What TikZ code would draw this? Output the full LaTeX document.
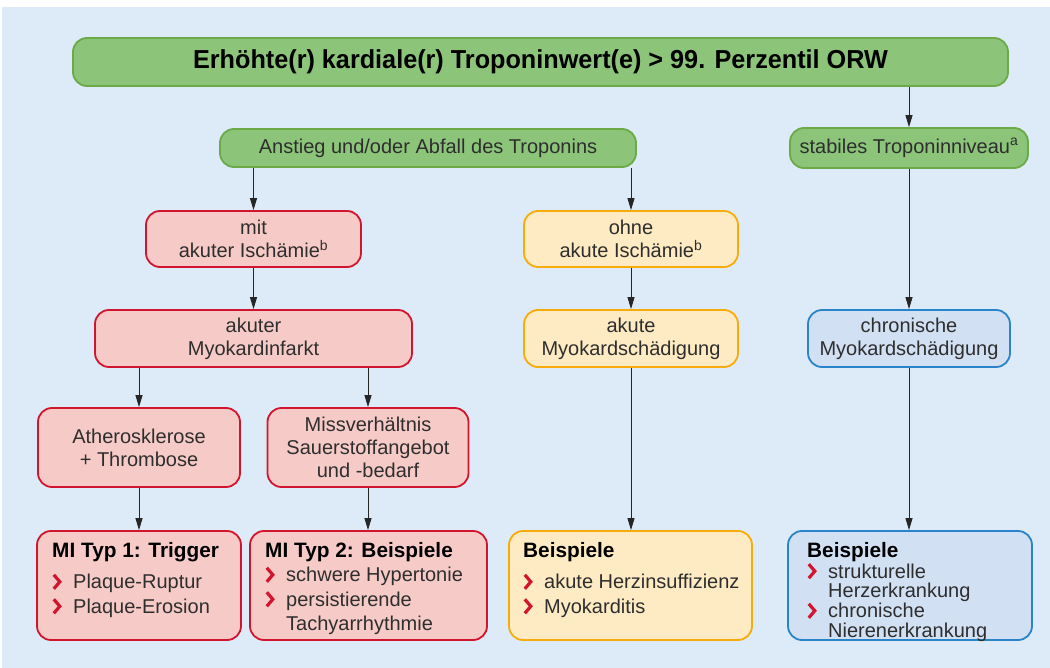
\documentclass[tikz,border=0pt]{standalone}
\usepackage{fontspec}
\setmainfont{Liberation Sans}
\usetikzlibrary{arrows.meta}
\definecolor{bgblue}{HTML}{DDEAF7}
\definecolor{gfill}{HTML}{8CC47A}
\definecolor{gdraw}{HTML}{6BAA46}
\definecolor{rfill}{HTML}{F6CBC7}
\definecolor{rdraw}{HTML}{D2152E}
\definecolor{ofill}{HTML}{FEEBC4}
\definecolor{odraw}{HTML}{F8AC0C}
\definecolor{bfill}{HTML}{D2E0F3}
\definecolor{bdraw}{HTML}{2A84C9}
\definecolor{txt}{HTML}{2E2E2E}
\definecolor{chevred}{HTML}{D2152E}
\newcommand{\chev}{\makebox[21pt][l]{\tikz[baseline=0pt]\draw[chevred,line width=3.2pt,line cap=butt,line join=miter] (1pt,0pt)--(7pt,7pt)--(1pt,14pt);}}
\newcommand{\chind}{\hspace*{21pt}}
\newcommand{\ttl}[1]{{\fontsize{20.8}{24}\selectfont\bfseries\color{black}#1}}
\begin{document}
\begin{tikzpicture}[x=1pt,y=-1pt,
  box/.style={rounded corners=14pt,line width=1.8pt,inner sep=0pt,align=center,text=txt,font=\fontsize{20}{23}\selectfont},
  gbox/.style={box,fill=gfill,draw=gdraw},
  rbox/.style={box,fill=rfill,draw=rdraw},
  obox/.style={box,fill=ofill,draw=odraw},
  bbox/.style={box,fill=bfill,draw=bdraw},
  lst/.style={anchor=north west,align=left,inner sep=0pt,text=txt,font=\fontsize{20}{24.5}\selectfont},
  arr/.style={draw=black!85,line width=0.9pt,-{Triangle[length=12pt,width=7pt]}}
]
\useasboundingbox (0,0) rectangle (1050,668);
\fill[bgblue] (2,7) rectangle (1050,668);

\node[gbox,minimum width=935,minimum height=48] (top) at (540.5,62)
  {\scalebox{0.97}[1]{\fontsize{26}{30}\selectfont\bfseries\color{black}Erhöhte(r) kardiale(r) Troponinwert(e) > 99. Perzentil ORW}};
\node[gbox,minimum width=416,minimum height=38] (anst) at (428,148) {Anstieg und/oder Abfall des Troponins};
\node[gbox,minimum width=238,minimum height=40] (stab) at (909,148) {stabiles Troponinniveau\textsuperscript{a}};

\node[rbox,minimum width=215,minimum height=56] (mit) at (253.5,239) {mit\\akuter Ischämie\textsuperscript{b}};
\node[obox,minimum width=214,minimum height=56] (ohne) at (631,239) {ohne\\akute Ischämie\textsuperscript{b}};

\node[rbox,minimum width=317,minimum height=57] (ami) at (253.5,338.5) {akuter\\Myokardinfarkt};
\node[obox,minimum width=214,minimum height=57] (ams) at (631,338.5) {akute\\Myokardschädigung};
\node[bbox,minimum width=202,minimum height=57] (chr) at (909,338.5) {chronische\\Myokardschädigung};

\node[rbox,minimum width=202,minimum height=79] (ath) at (139,447.5) {Atherosklerose\\+ Thrombose};
\node[rbox,minimum width=201,minimum height=79] (mis) at (368,447.5) {Missverhältnis\\Sauerstoffangebot\\und -bedarf};

\node[rbox,minimum width=204,minimum height=109] (t1) at (139,585.5) {};
\node[rbox,minimum width=237,minimum height=109] (t2) at (368.5,585.5) {};
\node[obox,minimum width=243,minimum height=109] (b1) at (630.5,585.5) {};
\node[bbox,minimum width=244,minimum height=109] (b2) at (910,585.5) {};

\node[lst] (t1txt) at (52,542) {\ttl{MI Typ 1: Trigger}\\[7pt]\chev Plaque-Ruptur\\\chev Plaque-Erosion};
\node[lst] (t2txt) at (265,542) {\ttl{MI Typ 2: Beispiele}\\\chev schwere Hypertonie\\\chev persistierende\\\chind Tachyarrhythmie};
\node[lst] (b1txt) at (523,542) {\ttl{Beispiele}\\[7pt]\chev akute Herzinsuffizienz\\\chev Myokarditis};
\node[lst,font=\fontsize{20}{19.8}\selectfont] (b2txt) at (807,542) {\ttl{Beispiele}\\\chev strukturelle\\\chind Herzerkrankung\\\chev chronische\\\chind Nierenerkrankung};

\draw[arr] (top.south -| stab.north) -- (stab.north);
\draw[arr] (anst.south -| mit.north) -- (mit.north);
\draw[arr] (anst.south -| ohne.north) -- (ohne.north);
\draw[arr] (mit.south) -- (ami.north -| mit.south);
\draw[arr] (ohne.south) -- (ams.north);
\draw[arr] (stab.south) -- (chr.north -| stab.south);
\draw[arr] (ami.south -| ath.north) -- (ath.north);
\draw[arr] (ami.south -| mis.north) -- (mis.north);
\draw[arr] (ath.south) -- (t1.north -| ath.south);
\draw[arr] (mis.south) -- (t2.north -| mis.south);
\draw[arr] (ams.south) -- (b1.north -| ams.south);
\draw[arr] (chr.south) -- (b2.north -| chr.south);
\end{tikzpicture}
\end{document}
